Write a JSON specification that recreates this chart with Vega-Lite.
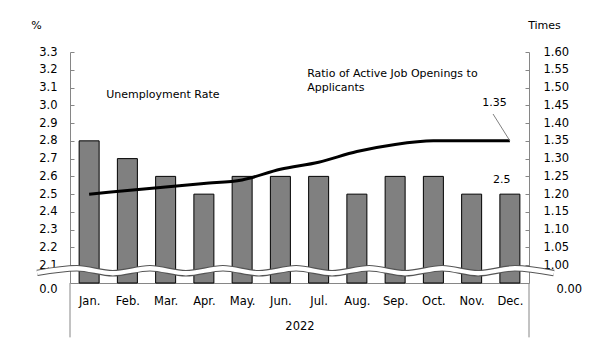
{
  "$schema": "https://vega.github.io/schema/vega-lite/v6.json",
  "width": 459,
  "height": 231,
  "autosize": "none",
  "padding": {"left": 70, "top": 52, "right": 77, "bottom": 76},
  "background": "white",
  "config": {
    "view": {"stroke": null},
    "font": "DejaVu Sans",
    "axis": {
      "labelFont": "DejaVu Sans", "labelFontSize": 11, "labelColor": "#000",
      "titleFont": "DejaVu Sans", "titleFontSize": 11, "titleFontWeight": "normal", "titleColor": "#000",
      "domainColor": "#868686", "tickColor": "#868686", "grid": false, "zindex": 0,
      "labelOverlap": false, "labelBound": false, "labelFlush": false
    },
    "text": {"font": "DejaVu Sans", "fontSize": 11, "color": "#000"}
  },
  "datasets": {
    "monthly": [
      {"m": 1, "month": "Jan.", "rate": 2.8, "ratio": 1.20},
      {"m": 2, "month": "Feb.", "rate": 2.7, "ratio": 1.21},
      {"m": 3, "month": "Mar.", "rate": 2.6, "ratio": 1.22},
      {"m": 4, "month": "Apr.", "rate": 2.5, "ratio": 1.23},
      {"m": 5, "month": "May.", "rate": 2.6, "ratio": 1.24},
      {"m": 6, "month": "Jun.", "rate": 2.6, "ratio": 1.27},
      {"m": 7, "month": "Jul.", "rate": 2.6, "ratio": 1.29},
      {"m": 8, "month": "Aug.", "rate": 2.5, "ratio": 1.32},
      {"m": 9, "month": "Sep.", "rate": 2.6, "ratio": 1.34},
      {"m": 10, "month": "Oct.", "rate": 2.6, "ratio": 1.35},
      {"m": 11, "month": "Nov.", "rate": 2.5, "ratio": 1.35},
      {"m": 12, "month": "Dec.", "rate": 2.5, "ratio": 1.35}
    ],
    "wave": [
      {"m": -0.36, "rate": 2.057},
      {"m": 0.68, "rate": 2.083},
      {"m": 1.62, "rate": 2.055},
      {"m": 2.59, "rate": 2.083},
      {"m": 3.53, "rate": 2.055},
      {"m": 4.5, "rate": 2.083},
      {"m": 5.44, "rate": 2.055},
      {"m": 6.41, "rate": 2.083},
      {"m": 7.35, "rate": 2.055},
      {"m": 8.32, "rate": 2.083},
      {"m": 9.26, "rate": 2.055},
      {"m": 10.23, "rate": 2.083},
      {"m": 11.17, "rate": 2.055},
      {"m": 12.13, "rate": 2.083},
      {"m": 13.15, "rate": 2.056}
    ],
    "edges": [{"m": 0.5}, {"m": 12.5}],
    "notesL": [
      {"m": 2.93, "rate": 3.058, "t": "Unemployment Rate", "a": "center"},
      {"m": 6.7, "rate": 3.176, "t": "Ratio of Active Job Openings to", "a": "left"},
      {"m": 6.7, "rate": 3.097, "t": "Applicants", "a": "left"},
      {"m": 11.79, "rate": 2.579, "t": "2.5", "a": "center"}
    ],
    "notesR": [
      {"m": 11.6, "ratio": 1.457, "t": "1.35"}
    ],
    "leader": [
      {"m": 11.56, "m2": 12, "ratio": 1.4255, "ratio2": 1.35}
    ]
  },
  "encoding": {
    "x": {
      "field": "m", "type": "quantitative",
      "scale": {"domain": [0.5, 12.5], "nice": false, "zero": false, "padding": 0},
      "axis": {
        "orient": "bottom",
        "values": [1, 2, 3, 4, 5, 6, 7, 8, 9, 10, 11, 12],
        "tickCount": 20,
        "labelExpr": "['Jan.','Feb.','Mar.','Apr.','May.','Jun.','Jul.','Aug.','Sep.','Oct.','Nov.','Dec.'][datum.value - 1]",
        "ticks": false, "labelPadding": 12, "labelFontSize": 11.5, "labelOverlap": false,
        "title": "2022", "titlePadding": 14, "titleFontSize": 11.5
      }
    }
  },
  "layer": [
    {
      "layer": [
        {
          "data": {"name": "monthly"},
          "mark": {"type": "bar", "orient": "vertical", "size": 20, "color": "#808080", "stroke": "#000", "strokeWidth": 1},
          "encoding": {
            "y": {
              "field": "rate", "type": "quantitative",
              "scale": {"domain": [2.0, 3.3], "nice": false, "zero": false},
              "axis": {
                "orient": "left",
                "values": [2.0, 2.1, 2.2, 2.3, 2.4, 2.5, 2.6, 2.7, 2.8, 2.9, 3.0, 3.1, 3.2, 3.3],
                "tickCount": 30,
                "labelExpr": "datum.value < 2.05 ? '0.0' : format(datum.value, '.1f')",
                "labelBaseline": {"condition": {"test": "datum.value < 2.05", "value": "top"}, "value": "middle"},
                "tickOpacity": {"condition": {"test": "datum.value < 2.05", "value": 0}, "value": 1},
                "tickSize": -4, "labelPadding": 17, "labelFontSize": 11.5, "labelOverlap": false,
                "title": "%", "titleAngle": 0, "titleX": -34, "titleY": -27,
                "titleAlign": "center", "titleBaseline": "middle"
              }
            },
            "y2": {"datum": 2.0}
          }
        },
        {
          "data": {"name": "notesL"},
          "transform": [{"filter": "datum.a == 'center'"}],
          "mark": {"type": "text", "baseline": "middle", "align": "center"},
          "encoding": {
            "y": {"field": "rate", "type": "quantitative"},
            "text": {"field": "t"}
          }
        },
        {
          "data": {"name": "notesL"},
          "transform": [{"filter": "datum.a == 'left'"}],
          "mark": {"type": "text", "baseline": "middle", "align": "left"},
          "encoding": {
            "y": {"field": "rate", "type": "quantitative"},
            "text": {"field": "t"}
          }
        },
        {
          "data": {"name": "edges"},
          "mark": {"type": "rule", "color": "#868686", "strokeWidth": 1},
          "encoding": {
            "y": {"datum": 2.0},
            "y2": {"datum": 1.694}
          }
        },
        {
          "data": {"name": "wave"},
          "mark": {"type": "line", "interpolate": "monotone", "color": "#555555", "strokeWidth": 6.5},
          "encoding": {"y": {"field": "rate", "type": "quantitative"}}
        },
        {
          "data": {"name": "wave"},
          "mark": {"type": "line", "interpolate": "monotone", "color": "#ffffff", "strokeWidth": 4.3},
          "encoding": {"y": {"field": "rate", "type": "quantitative"}}
        }
      ]
    },
    {
      "layer": [
        {
          "data": {"name": "monthly"},
          "mark": {"type": "line", "color": "#000", "strokeWidth": 3, "interpolate": "monotone"},
          "encoding": {
            "y": {
              "field": "ratio", "type": "quantitative",
              "scale": {"domain": [0.95, 1.6], "nice": false, "zero": false},
              "axis": {
                "orient": "right",
                "values": [0.95, 1.0, 1.05, 1.1, 1.15, 1.2, 1.25, 1.3, 1.35, 1.4, 1.45, 1.5, 1.55, 1.6],
                "tickCount": 30,
                "labelExpr": "datum.value < 0.97 ? '0.00' : format(datum.value, '.2f')",
                "labelBaseline": {"condition": {"test": "datum.value < 0.97", "value": "top"}, "value": "middle"},
                "labelPadding": {"condition": {"test": "datum.value < 0.97", "value": 31}, "value": 18},
                "tickOpacity": {"condition": {"test": "datum.value < 0.97", "value": 0}, "value": 1},
                "tickSize": -4, "labelFontSize": 11.5, "labelOverlap": false,
                "title": "Times", "titleAngle": 0, "titleX": 15, "titleY": -27,
                "titleAlign": "center", "titleBaseline": "middle"
              }
            }
          }
        },
        {
          "data": {"name": "notesR"},
          "mark": {"type": "text", "baseline": "middle", "align": "center"},
          "encoding": {
            "y": {"field": "ratio", "type": "quantitative"},
            "text": {"field": "t"}
          }
        },
        {
          "data": {"name": "leader"},
          "mark": {"type": "rule", "color": "#808080", "strokeWidth": 1},
          "encoding": {
            "x2": {"field": "m2"},
            "y": {"field": "ratio", "type": "quantitative"},
            "y2": {"field": "ratio2"}
          }
        }
      ]
    }
  ],
  "resolve": {"scale": {"y": "independent"}, "axis": {"y": "independent"}}
}
